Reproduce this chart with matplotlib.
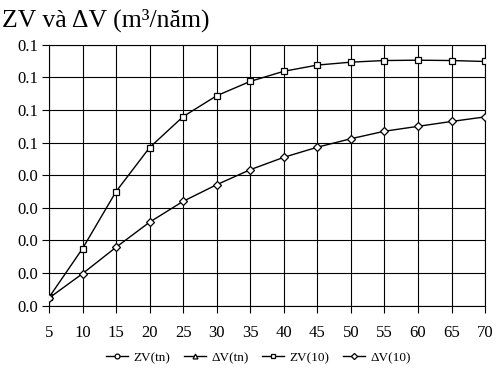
import matplotlib
matplotlib.use("Agg")
import matplotlib.pyplot as plt

plt.rcParams['font.family'] = ['Liberation Serif', 'DejaVu Serif']

ages = [5, 10, 15, 20, 25, 30, 35, 40, 45, 50, 55, 60, 65, 70]
zv_tn = []
dv_tn = []
zv_10 = [0.0025, 0.0175, 0.0350, 0.0485, 0.0580, 0.0644, 0.0688, 0.0719, 0.0738,
         0.0747, 0.0752, 0.0753, 0.0752, 0.0749]
dv_10 = [0.0023, 0.0098, 0.0179, 0.0256, 0.0320, 0.0371, 0.0417, 0.0455, 0.0486,
         0.0512, 0.0535, 0.0550, 0.0565, 0.0579]
y_ticks = [0.00, 0.01, 0.02, 0.03, 0.04, 0.05, 0.06, 0.07, 0.08]
y_labels = ['0.0', '0.0', '0.0', '0.0', '0.0', '0.1', '0.1', '0.1', '0.1']
x_ticks = ages

fig = plt.figure(figsize=(4.97, 3.74), dpi=100)
ax = fig.add_axes([0.0986, 0.183, 0.8774, 0.697])

mk = dict(color='black', lw=1.0, markerfacecolor='white', markeredgecolor='black',
          markeredgewidth=0.9)
ax.plot(zv_tn, zv_tn, marker='o', markersize=5, label='ZV(tn)', **mk)
ax.plot(dv_tn, dv_tn, marker='^', markersize=5, label='ΔV(tn)', **mk)
ax.plot(ages, zv_10, marker='s', markersize=5, label='ZV(10)', zorder=3, **mk)
ax.plot(ages, dv_10, marker='D', markersize=4.5, label='ΔV(10)', zorder=3, **mk)

ax.set_xlim(5, 70)
ax.set_ylim(0, 0.08)
ax.set_xticks(x_ticks)
ax.set_xticklabels([str(v) for v in x_ticks])
ax.set_yticks(y_ticks)
ax.set_yticklabels(y_labels)
ax.tick_params(axis='both', labelsize=12, direction='out', length=5, width=0.8,
               color='black')
ax.tick_params(axis='x', pad=9)
ax.tick_params(axis='y', pad=3)
ax.grid(True, color='black', lw=0.8)
ax.set_axisbelow(True)
for s in ax.spines.values():
    s.set_color('black')
    s.set_linewidth(0.8)

fig.text(0.004, 0.978, 'ZV và ΔV (m³/năm)', fontsize=18.5, ha='left', va='top')

fig.legend(loc='center', bbox_to_anchor=(0.52, 0.043), ncol=4, frameon=False,
           fontsize=9.5, handlelength=1.7, handletextpad=0.4, columnspacing=1.0,
           markerscale=0.7)

fig.savefig('out.png', dpi=100)
